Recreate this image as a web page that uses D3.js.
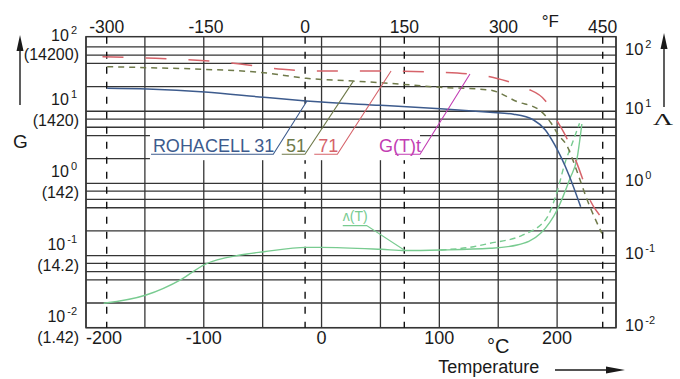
<!DOCTYPE html>
<html>
<head>
<meta charset="utf-8">
<script src="https://cdn.jsdelivr.net/npm/d3@7/dist/d3.min.js"></script>
<style>
  body { margin: 0; background: #fff; }
  text { font-family: "Liberation Sans", Arial, Helvetica, sans-serif; }
</style>
</head>
<body>
<div id="chart"></div>
<script>
// Temperature axes
var celsiusTicks = [-200, -100, 0, 100, 200];
var celsiusGrid = [-200, -150, -100, -50, 0, 50, 100, 150, 200, 250];
var fahrenheitTicks = [-300, -150, 0, 150, 300, 450];
var fahrenheitMarks = [-300, 0, 150, 450];

// Log axis (G in MPa, psi in brackets; lambda on the right)
var decadeValues = [0.01, 0.1, 1, 10, 100];
var decadeExponents = ["-2", "-1", "0", "1", "2"];
var psiLabels = ["(1.42)", "(14.2)", "(142)", "(1420)", "(14200)"];
var minorFactors = [2.2, 4.6, 6, 7.8];

// G(T) ROHACELL 31
var temp31 = [-182, -148, -99, -49, -13, 0, 50, 101, 143, 163, 180, 190, 198, 210, 220];
var g31 = [20.8, 20.3, 18.5, 15.6, 13.9, 13.4, 12.1, 10.8, 9.67, 9.08, 7.56, 5.5, 3.41, 1.31, 0.475];

// G(T) ROHACELL 51
var temp51 = [-182, -148, -99, -49, -13, 27, 50, 101, 143, 166, 185, 195, 201, 208, 217, 225, 238];
var g51 = [41.4, 40.2, 38.1, 34.2, 28.6, 26.2, 24.9, 21.5, 19.7, 13.6, 10.4, 6.81, 4.69, 3.41, 1.45, 0.622, 0.203];

// G(T) ROHACELL 71
var temp71 = [-186, -149, -99, -69, -33, -4, 50, 103, 143, 157, 174, 190, 199, 208, 215, 221, 227, 236];
var g71 = [57.0, 54.7, 50.2, 45.2, 38.1, 36.1, 36.1, 34.7, 30.1, 26.2, 20.8, 14.0, 7.81, 4.30, 2.27, 1.24, 0.634, 0.365];

// lambda(T)
var tempLambda = [-185, -149, -119, -99, -69, -49, -13, 0, 51, 71, 101, 143, 166, 186, 200, 211, 217, 221];
var lambda = [0.0218, 0.0284, 0.0469, 0.0757, 0.1018, 0.113, 0.130, 0.130, 0.122, 0.1175, 0.1194, 0.126, 0.140, 0.203, 0.428, 1.18, 2.25, 6.66];

// lambda(T), second branch (dashed)
var tempLambda2 = [101, 129, 143, 171, 191, 200, 207, 212, 219];
var lambda2 = [0.1194, 0.1327, 0.148, 0.193, 0.328, 0.767, 2.0, 3.30, 6.81];

// Leader labels: [temperature, value] points of underline and pointer
var noteLabels = ["ROHACELL 31", "51", "71", "G(T)t", "\u028C(T)"];
var notePoints = [
  [[-144.8, 2.53], [-41, 2.53], [-12.4, 13.9]],
  [[-33.8, 2.53], [-14.1, 2.53], [27, 26.2]],
  [[-6.2, 2.53], [13.4, 2.53], [59, 36.1]],
  [[62.4, 2.53], [83.6, 2.53], [126, 32.8]],
  [[18, 0.26], [38.3, 0.26], [70.8, 0.1175]]
];

var colBlue = "#3d5b8d";
var colOlive = "#6f7a4a";
var colRed = "#d6636a";
var colMagenta = "#c23db3";
var colGreen = "#78cb90";
var noteColors = [colBlue, colOlive, colRed, colMagenta, colGreen];

var svgWidth = 680;
var svgHeight = 379;

var margin = {top: 36.7, right: 64, bottom: 51.3, left: 86};
var width = svgWidth - margin.left - margin.right;
var height = svgHeight - margin.top - margin.bottom;

var svg = d3.select("#chart").append("svg")
  .attr("width", svgWidth)
  .attr("height", svgHeight);

var chartGroup = svg.append("g")
  .attr("transform", `translate(${margin.left}, ${margin.top})`);

var xC = d3.scaleLinear().domain([-200, 250]).range([0, width]);
var xF = d3.scaleLinear().domain([-300, 450]).range([20.7, 516.7]);
var yLog = d3.scaleLog().domain([0.01, 108]).range([height, 0]);

var gridColor = "#353535";

// horizontal grid lines
var hLines = [];
decadeValues.slice(0, 4).forEach(function(d) {
  hLines.push(d);
  minorFactors.forEach(function(f) { hLines.push(d * f); });
});

chartGroup.selectAll(".hgrid")
  .data(hLines)
  .enter()
  .append("line")
  .attr("x1", 0)
  .attr("x2", width)
  .attr("y1", d => yLog(d))
  .attr("y2", d => yLog(d))
  .attr("stroke", gridColor)
  .attr("stroke-width", 1.3);

chartGroup.selectAll(".vgrid")
  .data(celsiusGrid)
  .enter()
  .append("line")
  .attr("x1", d => xC(d))
  .attr("x2", d => xC(d))
  .attr("y1", 0)
  .attr("y2", height)
  .attr("stroke", gridColor)
  .attr("stroke-width", 1.3);

chartGroup.append("rect")
  .attr("width", width)
  .attr("height", height)
  .attr("fill", "none")
  .attr("stroke", gridColor)
  .attr("stroke-width", 1.5);

// dashed Fahrenheit markers
chartGroup.selectAll(".fline")
  .data(fahrenheitMarks)
  .enter()
  .append("line")
  .attr("x1", d => xF(d))
  .attr("x2", d => xF(d))
  .attr("y1", 0)
  .attr("y2", height)
  .attr("stroke", "#111")
  .attr("stroke-width", 1.4)
  .attr("stroke-dasharray", "7,8");

// white label box
chartGroup.append("rect")
  .attr("x", xC(-145.7))
  .attr("y", yLog(6) + 1.5)
  .attr("width", xC(83.6) - xC(-145.7))
  .attr("height", yLog(2.2) - yLog(6))
  .attr("fill", "#fff");

// curves
var curve = d3.line()
  .x(d => xC(d[0]))
  .y(d => yLog(d[1]))
  .curve(d3.curveMonotoneX);

var series = [
  {data: d3.zip(tempLambda, lambda), color: colGreen, dash: null, w: 1.4},
  {data: d3.zip(tempLambda2, lambda2), color: colGreen, dash: "6,4", w: 1.4},
  {data: d3.zip(temp31, g31), color: colBlue, dash: null, w: 1.5},
  {data: d3.zip(temp51, g51), color: colOlive, dash: "6,5", w: 1.5},
  {data: d3.zip(temp71, g71), color: colRed, dash: "21,22", w: 1.5}
];

chartGroup.selectAll(".curve")
  .data(series)
  .enter()
  .append("path")
  .attr("d", d => curve(d.data))
  .attr("fill", "none")
  .attr("stroke", d => d.color)
  .attr("stroke-width", d => d.w)
  .attr("stroke-dasharray", d => d.dash);

// leader lines and labels
var leader = d3.line()
  .x(d => xC(d[0]))
  .y(d => yLog(d[1]));

chartGroup.selectAll(".leader")
  .data(notePoints)
  .enter()
  .append("path")
  .attr("d", d => leader(d))
  .attr("fill", "none")
  .attr("stroke", (d, i) => noteColors[i])
  .attr("stroke-width", 1.1);

chartGroup.selectAll(".note")
  .data(noteLabels)
  .enter()
  .append("text")
  .attr("x", (d, i) => xC(notePoints[i][1][0]) + 1)
  .attr("y", (d, i) => yLog(notePoints[i][1][1]) - (i === 4 ? 4.5 : 2.6))
  .attr("text-anchor", "end")
  .attr("font-size", (d, i) => i === 4 ? 14 : 18)
  .attr("fill", (d, i) => noteColors[i])
  .text(d => d);

// top Fahrenheit labels
chartGroup.selectAll(".ftick")
  .data(fahrenheitTicks)
  .enter()
  .append("text")
  .attr("x", d => xF(d))
  .attr("y", -3.7)
  .attr("text-anchor", "middle")
  .attr("font-size", 17.5)
  .attr("fill", "#1a1a1a")
  .text(d => d);

// bottom Celsius labels
chartGroup.selectAll(".ctick")
  .data(celsiusTicks)
  .enter()
  .append("text")
  .attr("x", d => xC(d))
  .attr("y", height + 16.3)
  .attr("text-anchor", (d, i) => i === 0 ? "start" : "middle")
  .attr("font-size", 18)
  .attr("fill", "#1a1a1a")
  .text(d => d);

// left labels: powers of ten and psi
var leftPow = chartGroup.selectAll(".lpow")
  .data(decadeValues)
  .enter()
  .append("text")
  .attr("x", -9)
  .attr("y", d => Math.max(yLog(d) - 6, 4))
  .attr("text-anchor", "end")
  .attr("font-size", 16)
  .attr("fill", "#1a1a1a");
leftPow.append("tspan").text("10");
leftPow.append("tspan")
  .attr("dx", 2)
  .attr("dy", -7)
  .attr("font-size", 11)
  .text((d, i) => decadeExponents[i]);

chartGroup.selectAll(".lpsi")
  .data(decadeValues)
  .enter()
  .append("text")
  .attr("x", -7)
  .attr("y", d => Math.max(yLog(d) + 15, 23))
  .attr("text-anchor", "end")
  .attr("font-size", 16)
  .attr("fill", "#1a1a1a")
  .text((d, i) => psiLabels[i]);

// right labels
var rightPow = chartGroup.selectAll(".rpow")
  .data(decadeValues)
  .enter()
  .append("text")
  .attr("x", width + 9)
  .attr("y", d => Math.max(yLog(d) + 3, 18))
  .attr("font-size", 16.5)
  .attr("fill", "#1a1a1a");
rightPow.append("tspan").text("10");
rightPow.append("tspan")
  .attr("dx", 2)
  .attr("dy", -7)
  .attr("font-size", 11)
  .text((d, i) => decadeExponents[i]);

// axis titles and arrows
svg.append("text")
  .attr("x", 13).attr("y", 148.3)
  .attr("font-size", 19)
  .attr("fill", "#1a1a1a")
  .text("G");

svg.append("text")
  .attr("x", 653).attr("y", 125)
  .attr("font-size", 17)
  .attr("textLength", 20)
  .attr("lengthAdjust", "spacingAndGlyphs")
  .style("font-family", "'Liberation Serif', 'Times New Roman', serif")
  .attr("fill", "#1a1a1a")
  .text("\u039B");

svg.append("text")
  .attr("x", 541.7).attr("y", 27)
  .attr("font-size", 17)
  .attr("fill", "#1a1a1a")
  .text("\u00B0F");

svg.append("text")
  .attr("x", 487).attr("y", 352.7)
  .attr("font-size", 20)
  .attr("fill", "#1a1a1a")
  .text("\u00B0C");

svg.append("text")
  .attr("x", 438.3).attr("y", 373)
  .attr("font-size", 18)
  .attr("fill", "#1a1a1a")
  .text("Temperature");

function arrowUp(x, yTop, yBottom) {
  svg.append("line")
    .attr("x1", x).attr("x2", x)
    .attr("y1", yBottom).attr("y2", yTop + 10)
    .attr("stroke", "#1a1a1a").attr("stroke-width", 1.4);
  svg.append("path")
    .attr("d", `M${x},${yTop} L${x - 3.5},${yTop + 16} L${x + 3.5},${yTop + 16} Z`)
    .attr("fill", "#1a1a1a");
}
arrowUp(20, 35, 105);
arrowUp(664, 33, 107);

svg.append("line")
  .attr("x1", 555).attr("x2", 612)
  .attr("y1", 370).attr("y2", 370)
  .attr("stroke", "#1a1a1a").attr("stroke-width", 1.4);
svg.append("path")
  .attr("d", "M625,370 L606,366.5 L606,373.5 Z")
  .attr("fill", "#1a1a1a");
</script>
</body>
</html>
